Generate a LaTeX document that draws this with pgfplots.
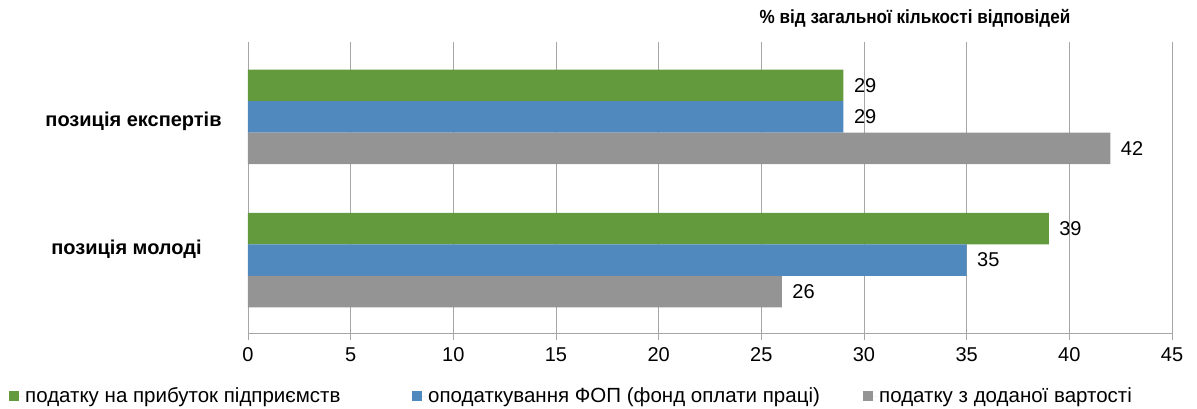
\documentclass[border=0pt]{standalone}
\usepackage{fontspec}
\setmainfont{Liberation Sans}
\usepackage{graphicx}
\usepackage{pgfplots}
\pgfplotsset{compat=1.18}
\definecolor{cgreen}{RGB}{99,154,62}
\definecolor{cblue}{RGB}{79,137,190}
\definecolor{cgrey}{RGB}{148,148,148}
\definecolor{cgrid}{RGB}{166,166,166}
\begin{document}
\begin{tikzpicture}
\begin{axis}[
  at={(0,0)}, anchor=south west,
  scale only axis, width=924pt, height=291pt,
  xbar, bar width=31.5pt,
  xmin=0, xmax=45, ymin=-0.51, ymax=1.524,
  xtick={0,5,...,45}, ytick={0.077,0.972},
  yticklabels={\hspace*{-7pt}позиція молоді, \hspace*{7pt}позиція експертів},
  yticklabel style={font=\fontsize{20}{24}\selectfont\bfseries, anchor=center, xshift=-111pt},
  xticklabel style={font=\fontsize{20}{24}\selectfont, yshift=-4pt},
  /pgf/number format/assume math mode=true,
  axis lines*=left,
  axis line style={cgrid, line width=0.8pt},
  xmajorgrids, grid style={cgrid, line width=0.8pt},
  tick align=outside, major tick length=7pt,
  xtick style={cgrid, line width=0.8pt}, ytick style={draw=none},
  nodes near coords,
  nodes near coords style={font=\fontsize{20}{24}\selectfont, anchor=west, xshift=7pt, text=black},
  title={\scalebox{0.9}[1]{\fontsize{19}{22}\selectfont\bfseries \% від загальної кількості відповідей}},
  title style={at={(axis description cs:0.7219,1.0825)}, anchor=center, yshift=-6pt},
  legend style={at={(axis description cs:-0.2619,-0.2165)}, anchor=west, draw=none, fill=none,
    legend columns=3, font=\fontsize{20.5}{24}\selectfont,
    /tikz/every even column/.append style={column sep=0pt}},
  legend cell align=left,
  legend image code/.code={\fill[#1, draw=none] (0pt,-5pt) rectangle (10pt,5pt); \path (0pt,0pt) -- (14pt,0pt);},
]
\addplot[fill=cgreen, draw=none, bar shift=31.5pt] coordinates {(39,0) (29,1)};
\addplot[fill=cblue, draw=none, bar shift=0pt] coordinates {(35,0) (29,1)};
\addplot[fill=cgrey, draw=none, bar shift=-31.5pt] coordinates {(26,0) (42,1)};
\legend{\makebox[385pt][l]{податку на прибуток підприємств},\makebox[433pt][l]{оподаткування ФОП (фонд оплати праці)},податку з доданої вартості}
\end{axis}
\pgfresetboundingbox
\path[use as bounding box] (-248pt,-75pt) rectangle (949pt,333pt);
\end{tikzpicture}
\end{document}
